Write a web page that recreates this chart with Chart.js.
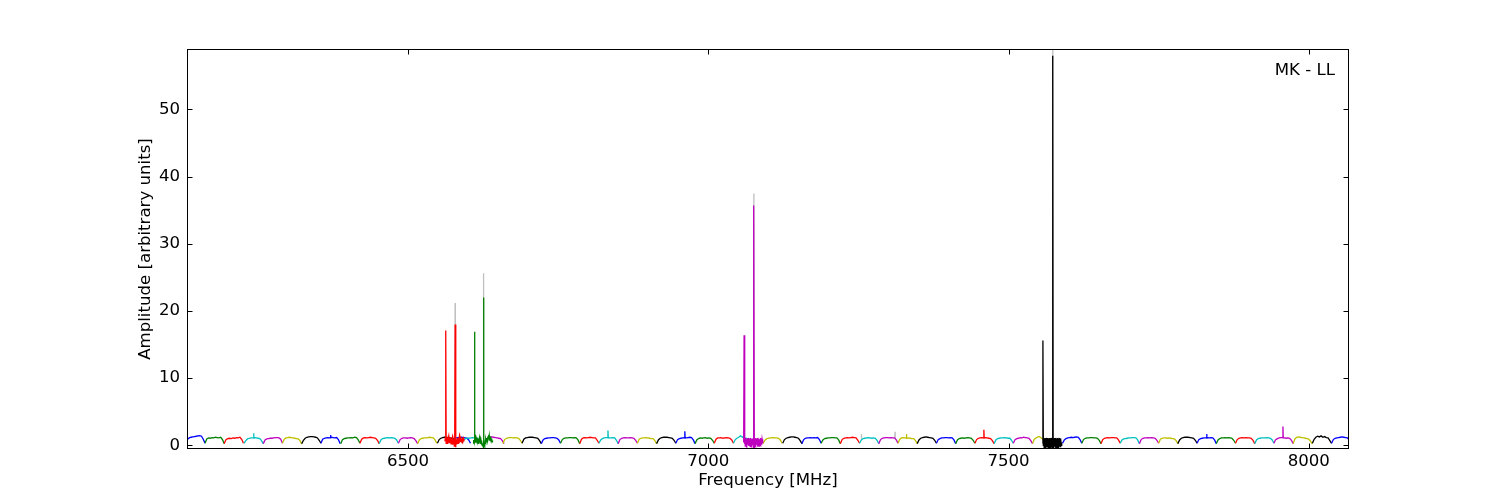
<!DOCTYPE html>
<html>
<head>
<meta charset="utf-8">
<script src="https://cdn.jsdelivr.net/npm/chart.js@4.4.0/dist/chart.umd.min.js"></script>
<style>html,body{margin:0;background:#fff}</style>
</head>
<body>
<canvas id="spec" width="1500" height="500"></canvas>
<script>
// colour cycle of the plot (matplotlib classic letters)
const colors = {b: '#0000ff', g: '#008000', r: '#ff0000', c: '#00bfbf', m: '#bf00bf', y: '#bfbf00', k: '#000000'};

// broad bands, 32 MHz each
const bandWidth = 32;
const bandStart = [6130, 6162, 6194, 6227, 6259, 6291, 6323, 6355, 6388, 6420, 6452, 6484, 6516, 6549, 6572,
  6590, 6628, 6658, 6690, 6722, 6754, 6786, 6818, 6850, 6882, 6914, 6946, 6978, 7010, 7042,
  7091, 7124, 7156, 7188, 7220, 7252, 7284, 7316, 7348, 7380, 7412, 7444, 7476, 7508, 7540,
  7590, 7622, 7654, 7686, 7718, 7750, 7782, 7814, 7846, 7878, 7910, 7942, 7974, 8006, 8038];
const bandColor = ['b','g','r','c','m','y','k','b','g','r','c','m','y','k','b',
  'c','m','y','k','b','g','r','c','m','y','k','b','g','r','c',
  'y','k','b','g','r','c','m','y','k','b','g','r','c','m','y',
  'b','g','r','c','m','y','k','b','g','r','c','m','y','k','b'];
const bandAmp = [
  [0.2, 0.9, 1.1, 1.2, 1.25, 1.3, 1.35, 1.4, 1.45, 1.35, 0.9, 0.3],
  [0.3, 0.95, 1.1, 1.05, 1.15, 1.1, 1.2, 1.15, 1.1, 1.2, 0.85, 0.25],
  [0.25, 0.85, 1.0, 1.05, 1.0, 1.1, 1.05, 1.15, 1.1, 1.2, 0.9, 0.3],
  [0.3, 0.7, 0.95, 1.05, 1.1, 1.1, 1.15, 1.1, 1.05, 1.0, 0.7, 0.25],
  [0.25, 0.8, 0.95, 1.0, 1.05, 1.05, 1.1, 1.15, 1.15, 1.1, 0.9, 0.3],
  [0.3, 0.9, 1.1, 1.15, 1.2, 1.15, 1.1, 1.05, 1.0, 0.95, 0.7, 0.2],
  [0.25, 0.75, 1.05, 1.2, 1.25, 1.3, 1.3, 1.25, 1.2, 1.1, 0.75, 0.3],
  [0.3, 0.9, 1.05, 1.1, 1.15, 1.1, 1.2, 1.15, 1.1, 1.15, 0.85, 0.25],
  [0.25, 0.85, 1.0, 1.05, 1.1, 1.1, 1.15, 1.1, 1.2, 1.15, 0.8, 0.3],
  [0.3, 0.9, 1.1, 1.15, 1.1, 1.15, 1.2, 1.15, 1.1, 1.05, 0.75, 0.25],
  [0.25, 0.8, 1.0, 1.05, 1.1, 1.15, 1.1, 1.15, 1.1, 1.05, 0.8, 0.3],
  [0.3, 0.85, 1.05, 1.1, 1.1, 1.05, 1.1, 1.15, 1.1, 1.0, 0.7, 0.25],
  [0.25, 0.8, 1.0, 1.05, 1.1, 1.1, 1.15, 1.2, 1.15, 1.1, 0.8, 0.3],
  [0.3, 0.85, 1.05, 1.15, 1.2, 1.2, 1.15, 1.1, 1.05, 1.0, 0.7, 0.3],
  [0.3, 0.8, 1.0, 1.1, 1.15, 1.1, 1.2, 1.15, 1.1, 1.05, 0.8, 0.3],
  [0.3, 0.85, 1.0, 1.1, 1.05, 1.1, 1.15, 1.1, 1.05, 1.0, 0.75, 0.3],
  [0.3, 0.9, 1.1, 1.2, 1.25, 1.2, 1.15, 1.1, 1.05, 1.0, 0.7, 0.25],
  [0.25, 0.85, 1.05, 1.1, 1.15, 1.15, 1.1, 1.15, 1.1, 1.05, 0.75, 0.3],
  [0.3, 0.9, 1.1, 1.15, 1.2, 1.2, 1.2, 1.15, 1.1, 1.05, 0.7, 0.25],
  [0.25, 0.8, 1.0, 1.05, 1.1, 1.1, 1.15, 1.15, 1.1, 1.05, 0.8, 0.3],
  [0.3, 0.85, 1.05, 1.1, 1.1, 1.15, 1.15, 1.1, 1.15, 1.1, 0.8, 0.25],
  [0.25, 0.9, 1.1, 1.15, 1.1, 1.15, 1.2, 1.15, 1.1, 1.1, 0.75, 0.3],
  [0.3, 0.8, 1.0, 1.1, 1.15, 1.15, 1.1, 1.1, 1.15, 1.1, 0.75, 0.25],
  [0.25, 0.85, 1.05, 1.1, 1.15, 1.1, 1.1, 1.15, 1.1, 1.05, 0.75, 0.3],
  [0.3, 0.9, 1.05, 1.1, 1.1, 1.15, 1.1, 1.05, 1.0, 1.0, 0.7, 0.25],
  [0.25, 0.8, 1.05, 1.15, 1.2, 1.2, 1.2, 1.15, 1.1, 1.05, 0.75, 0.3],
  [0.3, 0.85, 1.0, 1.05, 1.1, 1.15, 1.1, 1.15, 1.2, 1.15, 0.8, 0.25],
  [0.25, 0.8, 1.0, 1.1, 1.05, 1.1, 1.15, 1.05, 1.1, 1.05, 0.75, 0.3],
  [0.3, 0.9, 1.1, 1.1, 1.15, 1.05, 1.1, 1.15, 1.1, 1.05, 0.8, 0.3],
  [0.3, 0.85, 1.05, 1.2, 1.4, 1.25, 1.1, 1.05, 1.0, 0.9, 0.6, 0.2],
  [0.25, 0.7, 0.95, 1.05, 1.1, 1.1, 1.15, 1.1, 1.1, 1.05, 0.8, 0.3],
  [0.3, 0.85, 1.05, 1.15, 1.2, 1.25, 1.25, 1.2, 1.15, 1.05, 0.7, 0.25],
  [0.25, 0.85, 1.05, 1.1, 1.1, 1.15, 1.1, 1.15, 1.1, 1.15, 0.85, 0.3],
  [0.3, 0.8, 1.0, 1.05, 1.1, 1.1, 1.15, 1.15, 1.1, 1.1, 0.8, 0.25],
  [0.25, 0.85, 1.05, 1.1, 1.15, 1.1, 1.15, 1.2, 1.15, 1.1, 0.75, 0.3],
  [0.3, 0.8, 1.0, 1.05, 1.1, 1.15, 1.1, 1.05, 1.1, 1.05, 0.75, 0.25],
  [0.25, 0.85, 1.05, 1.1, 1.15, 1.15, 1.1, 1.15, 1.1, 1.1, 0.8, 0.3],
  [0.3, 0.9, 1.1, 1.15, 1.1, 1.05, 1.1, 1.05, 1.0, 1.0, 0.7, 0.25],
  [0.25, 0.8, 1.05, 1.15, 1.2, 1.25, 1.2, 1.15, 1.1, 1.05, 0.75, 0.3],
  [0.3, 0.85, 1.0, 1.1, 1.1, 1.15, 1.15, 1.1, 1.15, 1.1, 0.8, 0.25],
  [0.25, 0.8, 1.0, 1.05, 1.1, 1.05, 1.1, 1.15, 1.1, 1.05, 0.75, 0.3],
  [0.3, 0.85, 1.05, 1.1, 1.15, 1.1, 1.15, 1.1, 1.05, 1.0, 0.7, 0.25],
  [0.25, 0.8, 1.0, 1.05, 1.1, 1.1, 1.15, 1.1, 1.05, 1.05, 0.75, 0.3],
  [0.3, 0.85, 1.0, 1.05, 1.15, 1.1, 1.2, 1.15, 1.1, 1.05, 0.7, 0.25],
  [0.25, 0.9, 1.1, 1.25, 1.3, 1.1, 0.9, 0.9, 1.0, 1.0, 0.8, 0.4],
  [0.3, 0.8, 1.0, 1.1, 1.15, 1.2, 1.15, 1.2, 1.25, 1.2, 0.85, 0.3],
  [0.3, 0.85, 1.05, 1.1, 1.1, 1.15, 1.15, 1.1, 1.1, 1.05, 0.75, 0.25],
  [0.25, 0.85, 1.05, 1.1, 1.15, 1.1, 1.15, 1.15, 1.1, 1.1, 0.8, 0.3],
  [0.3, 0.8, 0.95, 1.0, 1.05, 1.1, 1.1, 1.15, 1.15, 1.1, 0.8, 0.25],
  [0.25, 0.85, 1.05, 1.1, 1.1, 1.15, 1.1, 1.15, 1.1, 1.05, 0.75, 0.3],
  [0.3, 0.9, 1.05, 1.1, 1.1, 1.05, 1.1, 1.05, 1.0, 0.95, 0.7, 0.25],
  [0.25, 0.8, 1.05, 1.15, 1.2, 1.2, 1.2, 1.15, 1.1, 1.05, 0.75, 0.3],
  [0.3, 0.85, 1.0, 1.05, 1.1, 1.1, 1.15, 1.1, 1.15, 1.1, 0.8, 0.25],
  [0.25, 0.8, 1.0, 1.1, 1.1, 1.15, 1.1, 1.15, 1.1, 1.05, 0.75, 0.3],
  [0.3, 0.85, 1.05, 1.1, 1.15, 1.1, 1.15, 1.1, 1.1, 1.05, 0.75, 0.25],
  [0.25, 0.8, 1.0, 1.05, 1.1, 1.1, 1.1, 1.15, 1.1, 1.05, 0.8, 0.3],
  [0.3, 0.85, 1.0, 1.1, 1.15, 1.15, 1.1, 1.05, 1.1, 1.05, 0.75, 0.25],
  [0.25, 0.95, 1.2, 1.25, 1.2, 1.15, 1.1, 1.05, 1.0, 0.9, 0.6, 0.2],
  [0.3, 0.9, 1.2, 1.35, 1.25, 1.4, 1.2, 1.3, 1.15, 1.1, 0.7, 0.3],
  [0.3, 0.85, 1.05, 1.1, 1.15, 1.2, 1.25, 1.2, 1.15, 1.1, 0.8, 0.3]
];

// narrow high-resolution windows with the maser lines, 48 channels over 32 MHz
const zoomWidth = 32;
const zoomStart = [6561.5, 6608.7, 7059.0, 7556.6];
const zoomColor = ['r', 'g', 'm', 'k'];
const zoomAmp = [
  [0.6, 1.1, 17.1, 0.3, 1.0, 0.5, 1.2, 0.2, 0.9, 0.4, 1.1, 0.3,
   1.0, 0.6, 1.2, 0.2, 0.8, 0.4, 1.0, 0.1, 0.9, 0.3, 0.7, -0.1,
   0.4, 18.0, -0.3, 0.5, 0.2, 0.9, 0.4, 1.1, 0.3, 1.0, 0.6, 1.2,
   0.4, 1.1, 0.5, 1.3, 0.6, 1.0, 0.4, 1.2, 0.7, 1.0, 0.6, 0.9],
  [0.3, 0.8, 0.5, 16.9, 0.6, 1.0, 0.4, 1.1, 0.7, 1.2, 0.5, 1.0,
   0.3, 0.9, 0.6, 1.1, 0.4, 0.8, 0.2, 0.7, 0.1, 0.5, 0.0, 0.3,
   -0.2, 22.0, -0.4, 0.3, 0.1, 0.6, 0.4, 0.9, 0.5, 1.1, 0.7, 1.3,
   0.8, 1.2, 0.9, 1.4, 0.7, 1.1, 0.8, 1.3, 0.6, 1.0, 0.5, 0.7],
  [0.4, 16.4, 0.2, 1.0, -0.1, 1.1, 0.0, 0.9, -0.2, 1.0, 0.1, 1.1,
   -0.1, 0.9, 0.0, 1.0, -0.2, 1.1, 0.1, 0.9, -0.1, 1.0, 0.0, 0.8,
   -0.5, 35.7, -0.5, 0.9, 0.0, 1.1, -0.1, 1.0, 0.1, 0.9, -0.2, 1.1,
   0.0, 1.0, -0.1, 0.9, 0.1, 1.1, 0.0, 1.0, 0.1, 0.9, 0.3, 0.6],
  [0.3, 15.6, 0.0, 1.0, -0.3, 1.1, -0.2, 1.0, -0.4, 1.1, -0.3, 1.0,
   -0.2, 1.1, -0.4, 1.0, -0.3, 1.1, -0.2, 1.0, -0.4, 1.1, -0.3, 1.0,
   -0.5, 58.0, -0.5, 1.0, -0.3, 1.1, -0.2, 1.0, -0.4, 1.1, -0.3, 1.0,
   -0.2, 1.1, -0.4, 1.0, -0.3, 1.1, -0.2, 1.0, -0.3, 0.9, 0.0, 0.4]
];

// small narrow features on the broad bands
const spikeBase = 1.1;
const spikeFreq = [6243, 6371, 6833, 6961, 7330, 7459, 7830, 7957];
const spikeAmp = [1.8, 1.55, 2.2, 2.1, 1.7, 2.3, 1.7, 2.8];
const spikeColor = ['c', 'b', 'c', 'b', 'y', 'r', 'b', 'm'];

// grey reference spectrum peaks (drawn underneath)
const greyFreq = [6578.5, 6625.7, 7076.0, 7573.6, 7255, 7311];
const greyAmp = [21.2, 25.6, 37.5, 59.0, 1.7, 2.0];

const xTicks = [6500, 7000, 7500, 8000];
const yTicks = [0, 10, 20, 30, 40, 50];

function channels(start, width, amps) {
  const step = width / (amps.length - 1);
  return amps.map((v, i) => ({x: start + i * step, y: v}));
}

const datasets = [];
const greyPts = [];
greyFreq.forEach((f, i) => {
  greyPts.push({x: f - 0.35, y: 1.0}, {x: f, y: greyAmp[i]}, {x: f + 0.35, y: 1.0}, {x: f + 0.4, y: null});
});
datasets.push({data: greyPts, borderColor: '#bfbfbf'});
bandStart.forEach((s, i) => {
  datasets.push({data: channels(s, bandWidth, bandAmp[i]), borderColor: colors[bandColor[i]]});
});
spikeFreq.forEach((f, i) => {
  datasets.push({
    data: [{x: f - 0.5, y: spikeBase}, {x: f, y: spikeAmp[i]}, {x: f + 0.5, y: spikeBase}],
    borderColor: colors[spikeColor[i]]
  });
});
zoomStart.forEach((s, i) => {
  datasets.push({data: channels(s, zoomWidth, zoomAmp[i]), borderColor: colors[zoomColor[i]]});
});
// later datasets on top, like successive plot calls
datasets.forEach((d, i) => {
  d.order = -i;
  d.borderWidth = 1.3;
  d.pointRadius = 0;
  d.tension = 0;
  d.spanGaps = false;
});

const frame = {
  id: 'frame',
  beforeDraw(chart) {
    const ctx = chart.ctx;
    ctx.save();
    ctx.fillStyle = '#fff';
    ctx.fillRect(0, 0, chart.width, chart.height);
    ctx.restore();
  },
  afterDraw(chart) {
    const {ctx, chartArea: a, scales: {x, y}} = chart;
    const L = Math.round(a.left) + 0.5, R = Math.round(a.right) - 0.5;
    const T = Math.round(a.top) + 0.5, B = Math.round(a.bottom) - 0.5;
    ctx.save();
    ctx.strokeStyle = '#000';
    ctx.lineWidth = 1;
    ctx.strokeRect(L, T, R - L, B - T);
    ctx.beginPath();
    xTicks.forEach(v => {
      const px = Math.round(x.getPixelForValue(v)) + 0.5;
      ctx.moveTo(px, B); ctx.lineTo(px, B - 5);
      ctx.moveTo(px, T); ctx.lineTo(px, T + 5);
    });
    yTicks.forEach(v => {
      const py = Math.round(y.getPixelForValue(v)) + 0.5;
      ctx.moveTo(L, py); ctx.lineTo(L + 5, py);
      ctx.moveTo(R, py); ctx.lineTo(R - 5, py);
    });
    ctx.stroke();
    ctx.fillStyle = '#000';
    ctx.font = '16.6px "DejaVu Sans"';
    ctx.textAlign = 'right';
    ctx.textBaseline = 'middle';
    ctx.fillText('MK - LL', 1335, 71);
    ctx.restore();
  }
};

Chart.defaults.font.family = '"DejaVu Sans"';
Chart.defaults.font.size = 16.6;
Chart.defaults.color = '#000';

new Chart(document.getElementById('spec'), {
  type: 'line',
  data: {datasets: datasets},
  options: {
    responsive: false,
    animation: false,
    devicePixelRatio: 1,
    layout: {padding: {left: 0, right: 151, top: 49, bottom: 0}},
    plugins: {legend: {display: false}, tooltip: {enabled: false}},
    scales: {
      x: {
        type: 'linear',
        min: 6132,
        max: 8067,
        grid: {display: false, drawTicks: false},
        border: {display: false},
        ticks: {padding: 3, maxRotation: 0, callback: v => String(v)},
        afterBuildTicks: s => { s.ticks = xTicks.map(v => ({value: v})); },
        afterFit: s => { s.height = 51; },
        title: {display: true, text: 'Frequency [MHz]', padding: {top: 0, bottom: 9}}
      },
      y: {
        type: 'linear',
        min: -0.55,
        max: 59,
        grid: {display: false, drawTicks: false},
        border: {display: false},
        ticks: {padding: 7, callback: v => String(v)},
        afterBuildTicks: s => { s.ticks = yTicks.map(v => ({value: v})); },
        afterFit: s => { s.width = 187; },
        title: {display: true, text: 'Amplitude [arbitrary units]', padding: {top: 136, bottom: 0}}
      }
    }
  },
  plugins: [frame]
});
</script>
</body>
</html>
